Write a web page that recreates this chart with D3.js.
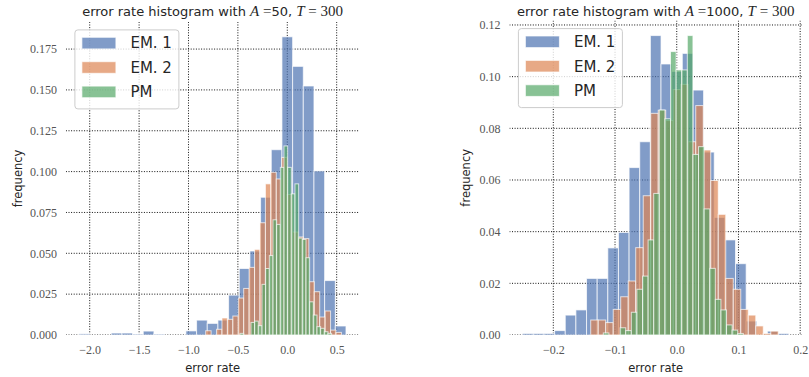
<!DOCTYPE html>
<html><head><meta charset="utf-8">
<script src="https://cdn.jsdelivr.net/npm/d3@7"></script>
<style>body{margin:0;background:#fff}</style>
</head><body><svg id="c" width="809" height="377"></svg>
<script>
// ---------- data ----------
const seriesNames = ["EM. 1", "EM. 2", "PM"];
const seriesColors = ["#4C72B0", "#DD8452", "#55A868"];

// left panel: A = 50, T = 300  (25 bins per series; [first edge, last edge])
const leftEM1Range = [-2.106, 0.594];
const leftEM1 = [0.0007,0,0,0.0012,0.0012,0.0006,0.0024,0.0006,0,0,0.0025,0.0091,0.0071,0.0091,0.0244,0.0407,0.0514,0.0843,0.1134,0.1825,0.1644,0.1524,0.1004,0.0333,0.0055];
const leftEM2Range = [-0.826, 0.548];
const leftEM2 = [0.0026,0,0.0035,0.0104,0.0096,0.0116,0.0226,0.0285,0.0414,0.0524,0.0687,0.0925,0.0996,0.0955,0.1087,0.086,0.063,0.060,0.059,0.0326,0.0265,0.011,0.0147,0.003,0.0016];
const leftPMRange = [-0.4787, 0.4490];
const leftPM = [0.001,0,0,0.0077,0.0085,0.0057,0.031,0.0407,0.0486,0.0705,0.0677,0.1026,0.1157,0.1026,0.0864,0.0925,0.0593,0.0585,0.0473,0.0203,0.0122,0.0051,0.0041,0.002,0.001];
const leftXTicks = [-2.0,-1.5,-1.0,-0.5,0.0,0.5];
const leftYTicks = [0,0.025,0.05,0.075,0.1,0.125,0.15,0.175];
const leftA = "50";

// right panel: A = 1000, T = 300
const rightEM1Range = [-0.2496, 0.1814];
const rightEM1 = [0.0006,0.0006,0.0006,0.0017,0.0077,0.0097,0.0219,0.0219,0.0337,0.0397,0.0648,0.0748,0.1159,0.1049,0.102,0.109,0.0948,0.0708,0.0455,0.0368,0.0276,0.0054,0,0.0015,0.0006];
const rightEM2Range = [-0.1394, 0.1645];
const rightEM2 = [0.0058,0.0058,0.0048,0.0099,0.0148,0.0209,0.0338,0.0539,0.0858,0.087,0.083,0.095,0.097,0.0748,0.0888,0.0716,0.0598,0.0467,0.0219,0.0177,0.0099,0.0077,0.0035,0.0006,0.0015];
const rightPMRange = [-0.119, 0.1079];
const rightPM = [0.0008,0,0,0.0028,0.0017,0.0088,0.0177,0.0228,0.0368,0.0548,0.0871,0.0837,0.1097,0.1026,0.1026,0.1159,0.0699,0.0729,0.0488,0.0258,0.0138,0.0097,0.0039,0.0019,0.0006];
const rightXTicks = [-0.2,-0.1,0.0,0.1,0.2];
const rightYTicks = [0,0.02,0.04,0.06,0.08,0.1,0.12];
const rightA = "1000";
const T = "300";

// ---------- layout ----------
const svg = d3.select("#c");
const SANS = "DejaVu Sans", SERIF = "Liberation Serif";

function panel(id, box, series, xTicks, yTicks, xFmt, yFmt, aVal, ylabX) {
  const xmin = d3.min(series, s => s.range[0]), xmax = d3.max(series, s => s.range[1]);
  const pad = (xmax - xmin) * 0.05;
  const ymax = d3.max(series, s => d3.max(s.values)) * 1.05;
  const x = d3.scaleLinear().domain([xmin - pad, xmax + pad]).range([box.left, box.right]);
  const y = d3.scaleLinear().domain([0, ymax]).range([box.bottom, box.top]);

  svg.append("clipPath").attr("id", "clip" + id).append("rect")
    .attr("x", box.left).attr("y", box.top)
    .attr("width", box.right - box.left).attr("height", box.bottom - box.top);

  const g = svg.append("g");
  const grid = g.append("g").attr("clip-path", `url(#clip${id})`)
    .attr("stroke", "#111").attr("stroke-width", 1).attr("stroke-dasharray", "1,1.6");
  grid.selectAll(".vx").data(xTicks).join("line")
    .attr("x1", d => x(d)).attr("x2", d => x(d)).attr("y1", box.top).attr("y2", box.bottom);
  grid.selectAll(".hy").data(yTicks).join("line")
    .attr("y1", d => y(d)).attr("y2", d => y(d)).attr("x1", box.left).attr("x2", box.right);

  const bars = g.append("g").attr("clip-path", `url(#clip${id})`);
  series.forEach((s, si) => {
    const w = (s.range[1] - s.range[0]) / s.values.length;
    const data = s.values.map((v, i) => ({x0: s.range[0] + i * w, x1: s.range[0] + (i + 1) * w, v}))
      .filter(d => d.v > 0);
    bars.append("g").selectAll("rect").data(data).join("rect")
      .attr("x", d => x(d.x0)).attr("width", d => x(d.x1) - x(d.x0))
      .attr("y", d => y(d.v)).attr("height", d => y(0) - y(d.v))
      .attr("fill", seriesColors[si]).attr("fill-opacity", 0.7)
      .attr("stroke", "#fff").attr("stroke-opacity", 0.7).attr("stroke-width", 1);
  });

  const ax = g.append("g").attr("transform", `translate(0,${box.bottom})`)
    .call(d3.axisBottom(x).tickValues(xTicks).tickFormat(d3.format(xFmt)).tickSize(0).tickPadding(10));
  const ay = g.append("g").attr("transform", `translate(${box.left},0)`)
    .call(d3.axisLeft(y).tickValues(yTicks).tickFormat(d3.format(yFmt)).tickSize(0).tickPadding(9));
  [ax, ay].forEach(a => {
    a.select(".domain").remove();
    a.selectAll("text").attr("font-family", SERIF).attr("font-size", 12).attr("fill", "#555");
  });

  const cx = (box.left + box.right) / 2;
  const t = g.append("text").attr("x", cx).attr("y", 15.5).attr("text-anchor", "middle")
    .attr("fill", "#262626").attr("font-size", 13).attr("font-family", SANS);
  t.append("tspan").text("error rate histogram with ");
  t.append("tspan").attr("font-family", SERIF).attr("font-style", "italic").attr("font-size", 15).text("A");
  t.append("tspan").attr("font-family", SERIF).attr("font-size", 15).text(" =");
  t.append("tspan").text(aVal + ", ");
  t.append("tspan").attr("font-family", SERIF).attr("font-style", "italic").attr("font-size", 15).text("T");
  t.append("tspan").attr("font-family", SERIF).attr("font-size", 15).text(" = " + T);

  g.append("text").attr("x", cx).attr("y", 371.5).attr("text-anchor", "middle")
    .attr("font-family", SANS).attr("font-size", 11.5).attr("fill", "#262626").text("error rate");
  g.append("text").attr("transform", `translate(${ylabX},${(box.top + box.bottom) / 2}) rotate(-90)`)
    .attr("text-anchor", "middle").attr("font-family", SANS).attr("font-size", 11.5)
    .attr("fill", "#262626").text("frequency");

  // legend
  const lx = box.left + 9, ly = box.top + 8;
  const lg = g.append("g").attr("transform", `translate(${lx},${ly})`);
  lg.append("rect").attr("width", 104).attr("height", 79).attr("rx", 3)
    .attr("fill", "#fff").attr("fill-opacity", 0.8).attr("stroke", "#cccccc").attr("stroke-width", 1);
  seriesNames.forEach((n, i) => {
    const cy = 13.2 + i * 24.4;
    lg.append("rect").attr("x", 7).attr("y", cy - 5.8).attr("width", 34).attr("height", 11.6)
      .attr("fill", seriesColors[i]).attr("fill-opacity", 0.7)
      .attr("stroke", "#fff").attr("stroke-opacity", 0.7);
    lg.append("text").attr("x", 55.5).attr("y", cy + 5.4).attr("font-family", SANS)
      .attr("font-size", 15).attr("fill", "#262626").text(n);
  });
}

panel("L", {left: 65.9, right: 359.3, top: 21.9, bottom: 335},
  [{range: leftEM1Range, values: leftEM1}, {range: leftEM2Range, values: leftEM2}, {range: leftPMRange, values: leftPM}],
  leftXTicks, leftYTicks, ".1f", ".3f", leftA, 22);
panel("R", {left: 509.4, right: 802, top: 20.6, bottom: 335},
  [{range: rightEM1Range, values: rightEM1}, {range: rightEM2Range, values: rightEM2}, {range: rightPMRange, values: rightPM}],
  rightXTicks, rightYTicks, ".1f", ".2f", rightA, 469.5);
</script></body></html>
